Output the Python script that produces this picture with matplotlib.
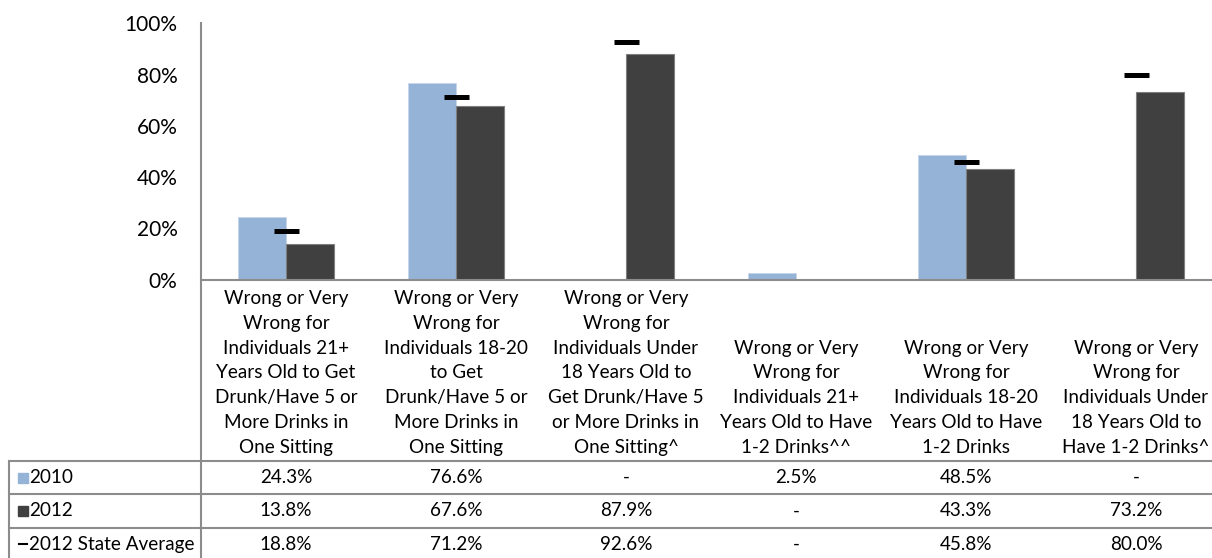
import matplotlib
matplotlib.use('Agg')
import matplotlib.pyplot as plt
import matplotlib.transforms as mtransforms
import numpy as np

plt.rcParams['font.family'] = ['Lato', 'DejaVu Sans']

# Data
categories = [
    "Wrong or Very\nWrong for\nIndividuals 21+\nYears Old to Get\nDrunk/Have 5 or\nMore Drinks in\nOne Sitting",
    "Wrong or Very\nWrong for\nIndividuals 18-20\nto Get\nDrunk/Have 5 or\nMore Drinks in\nOne Sitting",
    "Wrong or Very\nWrong for\nIndividuals Under\n18 Years Old to\nGet Drunk/Have 5\nor More Drinks in\nOne Sitting^",
    "Wrong or Very\nWrong for\nIndividuals 21+\nYears Old to Have\n1-2 Drinks^^",
    "Wrong or Very\nWrong for\nIndividuals 18-20\nYears Old to Have\n1-2 Drinks",
    "Wrong or Very\nWrong for\nIndividuals Under\n18 Years Old to\nHave 1-2 Drinks^",
]
series_names = ['2010', '2012', '2012 State Average']
values_2010 = [24.3, 76.6, np.nan, 2.5, 48.5, np.nan]
values_2012 = [13.8, 67.6, 87.9, np.nan, 43.3, 73.2]
state_avg_2012 = [18.8, 71.2, 92.6, np.nan, 45.8, 80.0]
yticks = [0, 20, 40, 60, 80, 100]

color_2010 = '#95B3D7'
color_2012 = '#404040'
grid_color = '#8c8c8c'

W, H = 1212, 558
fig = plt.figure(figsize=(W / 100, H / 100), dpi=100)

# axes placed in pixel terms (left, top, right, bottom)
left_px, top_px, right_px, bottom_px = 201, 23.3, 1221, 279.5
ax = fig.add_axes([left_px / W, 1 - bottom_px / H,
                   (right_px - left_px) / W, (bottom_px - top_px) / H])

def fy(py):
    # pixel row -> figure fraction
    return 1 - py / H

n = len(categories)
x = np.arange(n) + 0.5
bw = 0.285

ax.bar(x - bw / 2, values_2010, bw, color=color_2010, edgecolor='#c5d6ea', linewidth=0.6)
ax.bar(x + bw / 2, values_2012, bw, color=color_2012, edgecolor='#7f7f7f', linewidth=0.8)
ax.plot(x, state_avg_2012, linestyle='none', marker='_', markersize=18,
        markeredgewidth=3.6, color='black')

ax.set_xlim(0, n)
ax.set_ylim(0, 100)
ax.set_yticks(yticks)
ax.set_yticklabels([f'{t}%' for t in yticks], fontsize=15)
ax.tick_params(axis='y', length=0, pad=17)
ax.set_xticks([])
for side in ['top', 'right']:
    ax.spines[side].set_visible(False)
ax.spines['left'].set_visible(False)
ax.spines['bottom'].set_color(grid_color)
ax.spines['bottom'].set_linewidth(1.5)

# ---- data table under the chart ----
blend = mtransforms.blended_transform_factory(ax.transData, fig.transFigure)
header_bottom = 461
row_h = 33.3
tfs = 13.6

# vertical axis line runs through the table
fig.add_artist(plt.Line2D([left_px / W, left_px / W], [fy(top_px), fy(H + 5)],
                          transform=fig.transFigure, color=grid_color, lw=1.5))
# left border of legend column
fig.add_artist(plt.Line2D([9 / W, 9 / W], [fy(header_bottom), fy(H + 5)],
                          transform=fig.transFigure, color=grid_color, lw=1.5))
for i in range(4):
    yy = fy(header_bottom + i * row_h)
    fig.add_artist(plt.Line2D([9 / W, 1], [yy, yy], transform=fig.transFigure,
                              color=grid_color, lw=1.5))

# category headers (bottom aligned, like the source)
for xi, label in zip(x, categories):
    fig.text(xi, fy(456), label, transform=blend,
             ha='center', va='bottom', fontsize=tfs, linespacing=1.56)

rows = [values_2010, values_2012, state_avg_2012]
for r, (name, vals) in enumerate(zip(series_names, rows)):
    yc = fy(header_bottom + (r + 0.5) * row_h)
    for xi, v in zip(x, vals):
        txt = '-' if np.isnan(v) else f'{v:.1f}%'
        fig.text(xi, yc, txt, transform=blend, ha='center', va='center', fontsize=tfs)
    fig.text(29 / W, yc, name, ha='left', va='center', fontsize=tfs)

# legend keys in the first column
for r, c in enumerate([color_2010, color_2012]):
    yc = header_bottom + (r + 0.5) * row_h
    fig.add_artist(plt.Rectangle((18 / W, fy(yc + 5)), 10 / W, 10 / H,
                                 transform=fig.transFigure, color=c))
yc = header_bottom + 2.5 * row_h
fig.add_artist(plt.Line2D([19 / W, 27 / W], [fy(yc), fy(yc)], transform=fig.transFigure,
                          color='black', lw=1.5))

fig.savefig('out.png', dpi=100)
